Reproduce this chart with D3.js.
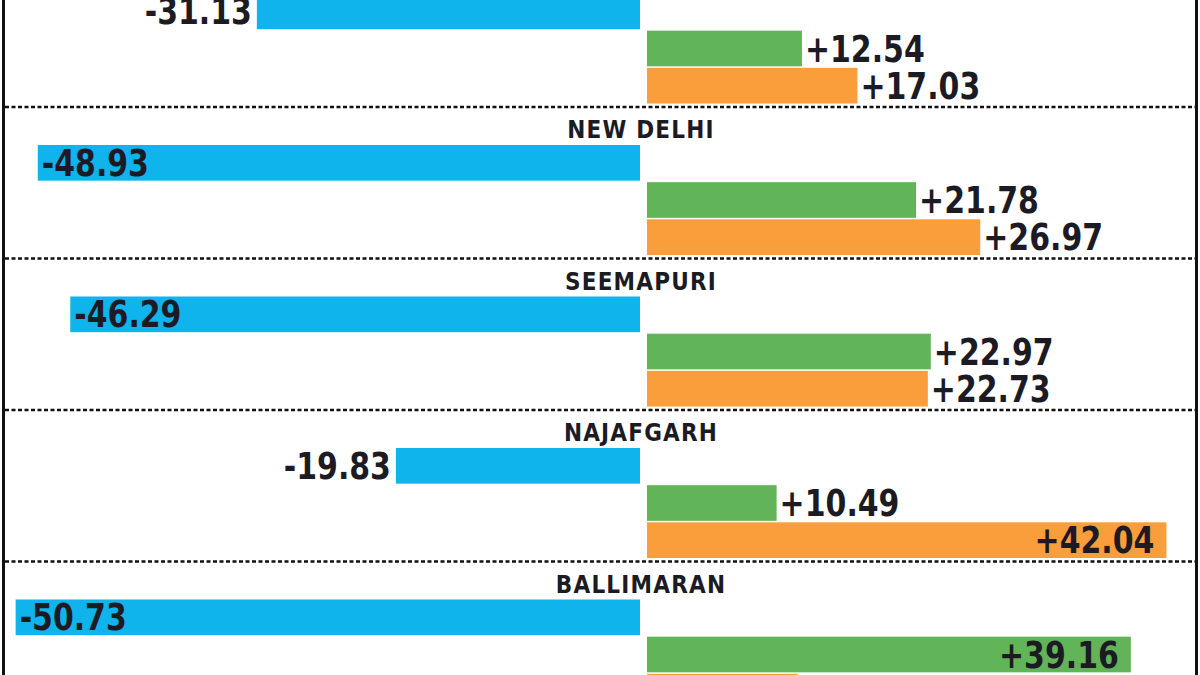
<!DOCTYPE html>
<html>
<head>
<meta charset="utf-8">
<script src="https://cdn.jsdelivr.net/npm/d3@7.9.0/dist/d3.min.js"></script>
<style>
  html, body { margin: 0; padding: 0; background: #fff; }
  svg { display: block; }
  .val { font-family: "DejaVu Sans Condensed", "DejaVu Sans", sans-serif; font-weight: bold; font-size: 37px; fill: #1c1b24; }
  .name { font-family: "DejaVu Sans Condensed", "DejaVu Sans", sans-serif; font-weight: bold; font-size: 24px; letter-spacing: 1.2px; fill: #1c1b24; }
</style>
</head>
<body>
<svg id="chart" width="1200" height="675"></svg>
<script>
// constituencies, the top one is cut off in the picture
const places = ['', 'NEW DELHI', 'SEEMAPURI', 'NAJAFGARH', 'BALLIMARAN'];
const series = ['blue', 'green', 'orange'];
const blueVals   = [-31.13, -48.93, -46.29, -19.83, -50.73];
const greenVals  = [12.54, 21.78, 22.97, 10.49, 39.16];
const orangeVals = [17.03, 26.97, 22.73, 42.04, 12.2];

const colors = { blue: '#0fb4ec', green: '#61b558', orange: '#fa9d3b' };

const W = 1200, H = 675;
const svg = d3.select('#chart');

// scales
const xNeg = d3.scaleLinear().domain([-52, 0]).range([0, 640]);
const xPos = d3.scaleLinear().domain([0, 45]).range([647, 1203]);
const yGroup = d3.scaleBand().domain(places).range([-44.5, -44.5 + 5 * 151.5]);
const yBar = d3.scaleBand().domain(series).range([38, 148]).paddingInner(0.04);
const label = v => (v < 0 ? '-' : '+') + Math.abs(v).toFixed(2);

const rows = [];
places.forEach((p, i) => {
  rows.push({ place: p, s: 'blue', v: blueVals[i] });
  rows.push({ place: p, s: 'green', v: greenVals[i] });
  rows.push({ place: p, s: 'orange', v: orangeVals[i] });
});

// dotted separators
svg.selectAll('line.sep')
  .data(places)
  .join('line')
  .attr('class', 'sep')
  .attr('x1', 5).attr('x2', 1195)
  .attr('y1', d => yGroup(d)).attr('y2', d => yGroup(d))
  .attr('stroke', '#111')
  .attr('stroke-width', 2.5)
  .attr('stroke-dasharray', '4,2.5');

// place names
svg.selectAll('text.name')
  .data(places)
  .join('text')
  .attr('class', 'name')
  .attr('x', 641)
  .attr('y', d => yGroup(d) + 31)
  .attr('text-anchor', 'middle')
  .text(d => d);

const barY = d => yGroup(d.place) + yBar(d.s);

svg.selectAll('rect.bar')
  .data(rows)
  .join('rect')
  .attr('class', 'bar')
  .attr('x', d => d.v < 0 ? xNeg(d.v) : xPos(0))
  .attr('width', d => d.v < 0 ? xNeg(0) - xNeg(d.v) : xPos(d.v) - xPos(0))
  .attr('y', barY)
  .attr('height', yBar.bandwidth())
  .attr('fill', d => colors[d.s]);

// value labels: inside the bar when it is long, outside otherwise
const inside = d => Math.abs(d.v) > 35;
const visible = rows.filter(d => barY(d) + 6 < H);

svg.selectAll('text.val')
  .data(visible)
  .join('text')
  .attr('class', 'val')
  .attr('transform', d => {
    let x;
    if (d.v < 0) x = inside(d) ? xNeg(d.v) + 4 : xNeg(d.v) - 5;
    else x = inside(d) ? xPos(d.v) - 12 : xPos(d.v) + 3;
    const y = barY(d) + yBar.bandwidth() / 2 + 13;
    return `translate(${x},${y}) scale(0.9,1)`;
  })
  .attr('text-anchor', d => (d.v < 0) === inside(d) ? 'start' : 'end')
  .text(d => label(d.v));

// frame sides
svg.append('rect').attr('x', 2).attr('y', 0).attr('width', 3).attr('height', H).attr('fill', '#111');
svg.append('rect').attr('x', 1195).attr('y', 0).attr('width', 3).attr('height', H).attr('fill', '#111');
</script>
</body>
</html>
